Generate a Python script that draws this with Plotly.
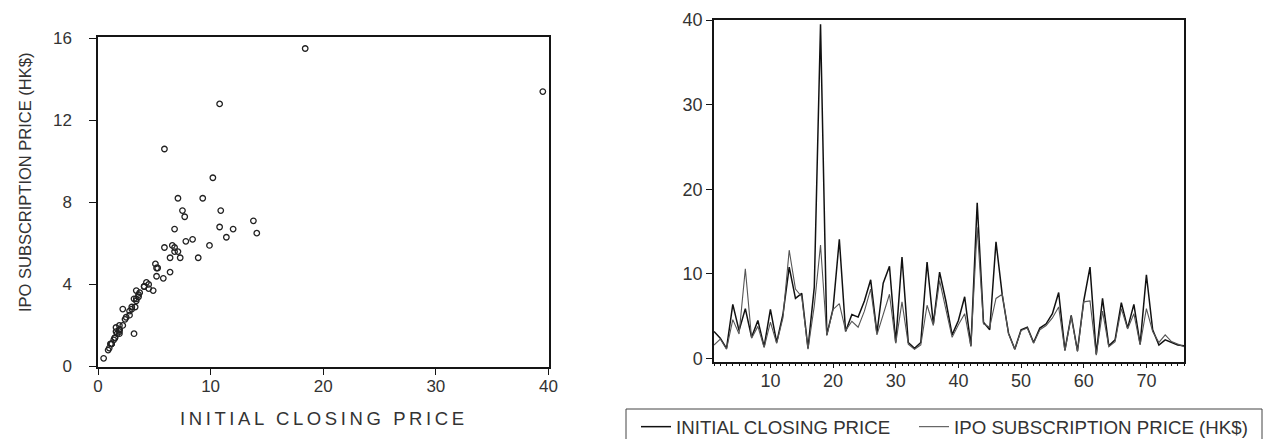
import plotly.graph_objects as go

W, H = 1267, 439

obs = list(range(1, 77))

initial_closing_price = [
    3.2, 2.4, 1.2, 6.4, 3.3, 5.9, 2.5, 4.5, 1.4, 5.8,
    1.9, 5.2, 10.8, 7.1, 7.7, 1.2, 8.4, 39.5, 2.8, 5.9,
    14.1, 3.2, 5.2, 4.9, 6.8, 9.3, 3.0, 8.9, 10.9, 1.9,
    12.0, 1.9, 1.2, 1.9, 11.4, 4.1, 10.2, 6.8, 2.8, 4.5,
    7.3, 1.5, 18.4, 4.3, 3.4, 13.8, 7.5, 3.0, 1.1, 3.4,
    3.7, 1.9, 3.6, 4.1, 5.3, 7.8, 1.0, 5.1, 0.9, 6.8,
    10.8, 0.5, 7.1, 1.5, 2.2, 6.6, 3.6, 6.4, 1.7, 9.9,
    3.4, 1.6, 2.2, 1.9, 1.6, 1.5,
]

ipo_subscription_price = [
    1.6, 2.3, 1.1, 4.6, 2.9, 10.6, 2.4, 3.8, 1.3, 4.3,
    1.8, 4.8, 12.8, 8.2, 7.3, 1.1, 6.2, 13.4, 2.7, 5.8,
    6.5, 3.3, 4.4, 3.7, 5.6, 8.2, 2.8, 5.3, 7.6, 1.8,
    6.7, 1.7, 1.1, 1.6, 6.3, 3.9, 9.2, 5.8, 2.5, 4.0,
    5.3, 1.4, 15.5, 4.1, 3.7, 7.1, 7.6, 2.9, 1.1, 3.3,
    3.6, 1.8, 3.4, 3.9, 4.8, 6.1, 0.9, 5.0, 0.8, 6.7,
    6.8, 0.4, 5.6, 1.4, 2.0, 5.9, 3.5, 5.3, 1.6, 5.9,
    3.2, 1.9, 2.8, 2.0, 1.7, 1.4,
]

scatter_x_ticks = [0, 10, 20, 30, 40]
scatter_y_ticks = [0, 4, 8, 12, 16]
line_x_ticks = [10, 20, 30, 40, 50, 60, 70]
line_y_ticks = [0, 10, 20, 30, 40]

FONT = "Liberation Sans, Arial, sans-serif"
TXT = "#333333"
AX = "#151515"

fig = go.Figure()

fig.add_trace(go.Scatter(
    x=initial_closing_price, y=ipo_subscription_price, mode="markers",
    marker=dict(symbol="circle-open", size=5.5, color="#222222", line=dict(width=1.3)),
    xaxis="x", yaxis="y", showlegend=False, hoverinfo="skip",
))
fig.add_trace(go.Scatter(
    x=obs, y=initial_closing_price, mode="lines", name="INITIAL CLOSING PRICE",
    line=dict(color="#111111", width=1.5), xaxis="x2", yaxis="y2", legend="legend",
))
fig.add_trace(go.Scatter(
    x=obs, y=ipo_subscription_price, mode="lines", name="IPO SUBSCRIPTION PRICE (HK$)",
    line=dict(color="#555555", width=1.1), xaxis="x2", yaxis="y2", legend="legend2",
))

common = dict(showgrid=False, zeroline=False, showline=True, mirror=True,
              linecolor=AX, linewidth=1.5, ticks="outside", tickcolor=AX,
              tickwidth=1, automargin=False)

leg_common = dict(orientation="h", xanchor="left", y=1 - 408 / H, yanchor="top",
                  font=dict(size=18.7, color=TXT), bgcolor="rgba(0,0,0,0)", borderwidth=0)

fig.update_layout(
    width=W, height=H, autosize=False,
    margin=dict(l=0, r=0, t=0, b=0, pad=0, autoexpand=False),
    paper_bgcolor="white", plot_bgcolor="white",
    font=dict(family=FONT, color=TXT),
    xaxis=dict(domain=[98 / W, 549 / W], range=[0, 40.05], tickvals=scatter_x_ticks,
               ticklen=7, ticklabelstandoff=-4, tickfont=dict(size=17, color=TXT),
               anchor="y", **common),
    yaxis=dict(domain=[1 - 366.5 / H, 1 - 37 / H], range=[0, 16.06], tickvals=scatter_y_ticks,
               ticklen=7, ticklabelstandoff=14, tickfont=dict(size=17, color=TXT),
               anchor="x", **common),
    xaxis2=dict(domain=[714 / W, 1184 / W], range=[1, 76], tickvals=line_x_ticks,
                ticklen=5, ticklabelstandoff=-3, tickfont=dict(size=18, color=TXT), anchor="y2",
                minor=dict(dtick=1, tick0=0, ticks="outside", ticklen=3, tickcolor=AX),
                **common),
    yaxis2=dict(domain=[1 - 361.5 / H, 1 - 20 / H], range=[-0.35, 40], tickvals=line_y_ticks,
                ticklen=6, tickfont=dict(size=18, color=TXT), anchor="x2", **common),
    legend=dict(x=636 / W, **leg_common),
    legend2=dict(x=914 / W, **leg_common),
    shapes=[dict(type="rect", xref="paper", yref="paper",
                 x0=626 / W, x1=1262 / W, y0=1 - 446 / H, y1=1 - 409 / H,
                 line=dict(color="#444444", width=1), fillcolor="rgba(0,0,0,0)")],
    annotations=[
        dict(text="IPO SUBSCRIPTION PRICE (HK$)", xref="paper", yref="paper",
             x=25 / W, y=1 - 183 / H, textangle=-90, showarrow=False,
             xanchor="center", yanchor="middle", font=dict(size=16.5, color=TXT)),
        dict(text='<span style="letter-spacing:3.6px">INITIAL CLOSING PRICE</span>',
             xref="paper", yref="paper", x=324 / W, y=1 - 418 / H, showarrow=False,
             xanchor="center", yanchor="middle", font=dict(size=18.5, color=TXT)),
    ],
)

fig.write_html(
    "out.html",
    config={"displayModeBar": False},
    post_script="document.body.style.margin='0px';document.body.style.overflow='hidden';",
)
